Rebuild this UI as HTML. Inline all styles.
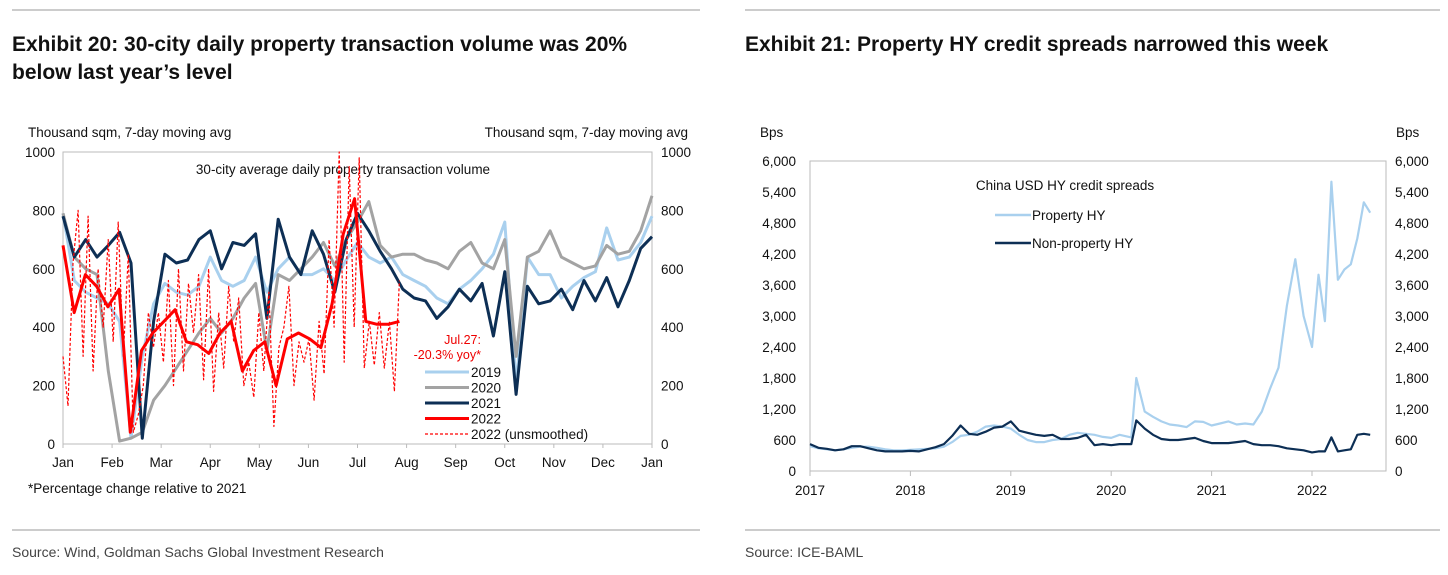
<!DOCTYPE html>
<html><head><meta charset="utf-8">
<style>
body{margin:0;background:#fff;}
svg{display:block;font-family:"Liberation Sans Narrow","Liberation Sans",sans-serif;}
.t{font-size:13.5px;fill:#111;}
.ttl{font-size:21px;font-weight:bold;fill:#111;}
.src{font-size:14px;fill:#444;}
</style></head><body>
<svg id="s" width="1448" height="575" viewBox="0 0 1448 575">
<line x1="12" y1="10" x2="700" y2="10" stroke="#999"/>
<line x1="745" y1="10" x2="1440" y2="10" stroke="#999"/>
<text class="ttl" x="12" y="51">Exhibit 20: 30-city daily property transaction volume was 20%</text>
<text class="ttl" x="12" y="79">below last year’s level</text>
<text class="ttl" x="745" y="51">Exhibit 21: Property HY credit spreads narrowed this week</text>
<line x1="12" y1="530" x2="700" y2="530" stroke="#999"/>
<line x1="745" y1="530" x2="1440" y2="530" stroke="#999"/>
<text class="src" x="12" y="557">Source: Wind, Goldman Sachs Global Investment Research</text>
<text class="src" x="745" y="557">Source: ICE-BAML</text>

<g id="L">
<text class="t" x="28" y="137">Thousand sqm, 7-day moving avg</text>
<text class="t" x="688" y="137" text-anchor="end">Thousand sqm, 7-day moving avg</text>
<text class="t" x="343" y="174" text-anchor="middle">30-city average daily property transaction volume</text>
<text class="t" x="28" y="493">*Percentage change relative to 2021</text>
<text class="t" x="481" y="344" text-anchor="end" style="fill:#e00;font-size:12.5px">Jul.27:</text>
<text class="t" x="481" y="359" text-anchor="end" style="fill:#e00;font-size:12.5px">-20.3% yoy*</text>
</g>
<g id="R">
<text class="t" x="760" y="137">Bps</text>
<text class="t" x="1396" y="137">Bps</text>
<text class="t" x="1065" y="190" text-anchor="middle">China USD HY credit spreads</text>
</g>
</svg>
<script>
const months=["Jan","Feb","Mar","Apr","May","Jun","Jul","Aug","Sep","Oct","Nov","Dec","Jan"];
const leftTicks=[0,200,400,600,800,1000];
const s2019=[790,560,520,500,480,420,20,300,480,550,520,510,540,640,560,540,560,640,520,600,640,580,580,600,560,630,690,640,620,640,580,560,540,500,480,530,560,600,650,760,200,640,580,580,500,540,570,590,740,630,640,690,780];
const s2020=[790,640,600,580,250,10,20,40,150,200,260,320,380,430,380,430,500,550,320,580,560,600,640,690,610,700,760,830,680,640,650,650,630,620,600,660,690,620,600,700,300,640,660,730,640,620,600,610,680,650,660,730,850];
const s2021=[780,640,700,640,680,725,620,20,420,650,620,630,700,730,600,690,680,720,430,770,640,580,730,650,520,700,790,730,660,600,530,500,490,430,470,530,490,550,370,590,170,540,480,490,530,460,560,490,570,470,560,670,710];
const s2022=[680,450,580,540,470,530,40,320,380,420,460,350,340,310,380,420,250,320,350,200,360,380,360,330,480,720,840,420,410,410,420];
const s2022raw=[300,130,620,800,300,780,250,600,400,700,350,760,300,650,40,100,200,450,330,450,280,560,200,600,250,550,380,580,220,600,180,450,260,540,350,500,200,280,160,450,250,520,60,330,400,540,200,350,280,360,150,420,240,700,400,1000,280,950,400,980,260,420,270,450,260,420,180,560];
const rightTicks=[0,600,1200,1800,2400,3000,3600,4200,4800,5400,6000];
const years=[2017,2018,2019,2020,2021,2022];
const propTimes=[];
const propValues=[480,440,420,400,420,450,470,470,450,420,400,400,410,420,430,440,470,560,680,700,760,860,880,860,820,700,600,560,560,600,620,700,740,720,700,660,640,700,650,1800,1150,1050,960,900,880,850,960,950,880,920,960,900,920,900,1150,1600,2000,3200,4100,3000,2400,3800,2900,5600,3700,3900,4000,4500,5200,5000];
const nonpValues=[520,450,430,400,420,480,480,440,400,380,380,380,390,380,420,460,520,680,880,720,700,760,840,860,960,780,740,700,680,700,620,620,640,700,500,520,500,520,520,980,820,700,620,600,600,620,640,580,540,540,540,560,580,520,500,500,480,440,420,400,360,380,380,650,380,400,420,700,720,700];
for(let i=0;i<60;i++)propTimes.push(2017+i/12);
for(let i=0;i<10;i++)propTimes.push(2022+i*0.58/9);
propTimes[38]=2020.2;propTimes[39]=2020.25;

const NS="http://www.w3.org/2000/svg";
const svg=document.getElementById('s');
function mk(tag,at,parent){const e=document.createElementNS(NS,tag);for(const k in at)e.setAttribute(k,at[k]);(parent||svg).appendChild(e);return e;}
const LX0=63,LX1=652,LY0=444,LY1=152;
const lx=w=>LX0+w*(LX1-LX0)/52, ly=v=>LY0-v/1000*(LY0-LY1);
let e=mk('rect',{x:LX0,y:LY1,width:LX1-LX0,height:LY0-LY1,fill:'none',stroke:'#bbb'});


leftTicks.forEach(v=>{
 let t=mk('text',{x:LX0-8,y:ly(v)+5,'text-anchor':'end',class:'t'});t.textContent=v;
 
 
 let t2=mk('text',{x:LX1+9,y:ly(v)+5,class:'t'});t2.textContent=v;
 
 
});
months.forEach((m,i)=>{
 let t=mk('text',{x:LX0+i*(LX1-LX0)/12,y:467,'text-anchor':'middle',class:'t'});t.textContent=m;
 
 
 let k=mk('line',{x1:LX0+i*(LX1-LX0)/12,x2:LX0+i*(LX1-LX0)/12,y1:LY0,y2:LY0+4,stroke:'#bbb'});
 
 
});
function line(vals,xf,yf,attrs,name,step){
 const d=vals.map((v,i)=>(i?'L':'M')+xf(i*(step||1)).toFixed(1)+','+yf(v).toFixed(1)).join('');
 const p=mk('path',Object.assign({d,fill:'none','stroke-linejoin':'round'},attrs));
 
 
 return p;
}
line(s2019,lx,ly,{stroke:'#a9d0ee','stroke-width':3},'series-2019');
line(s2020,lx,ly,{stroke:'#a3a3a3','stroke-width':3},'series-2020');
line(s2021,lx,ly,{stroke:'#0d2f55','stroke-width':3},'series-2021');
line(s2022raw,lx,ly,{stroke:'#f00','stroke-width':1.2,'stroke-dasharray':'3,2'},'series-2022-unsmoothed',29.7/(s2022raw.length-1));
line(s2022,lx,ly,{stroke:'#f00','stroke-width':3},'series-2022',29.7/(s2022.length-1));
const leg=[['2019','#a9d0ee',3,''],['2020','#a3a3a3',3,''],['2021','#0d2f55',3,''],['2022','#f00',3,''],['2022 (unsmoothed)','#f00',1.2,'3,2']];
leg.forEach((l,i)=>{
 const y=372+i*15.5;
 let ln=mk('line',{x1:425,x2:469,y1:y,y2:y,stroke:l[1],'stroke-width':l[2],'stroke-dasharray':l[3]});
 
 
 let t=mk('text',{x:471,y:y+5,class:'t'});t.textContent=l[0];
 
 
});
const RX0=810,RYR=100.4,RX1=1386,RY0=471,RY1=161;
const rx=t=>RX0+(t-2017)*RYR, ry=v=>RY0-v/6000*(RY0-RY1);
e=mk('rect',{x:RX0,y:RY1,width:RX1-RX0,height:RY0-RY1,fill:'none',stroke:'#bbb'});


rightTicks.forEach(v=>{
 const lab=v.toLocaleString('en-US');
 let t=mk('text',{x:RX0-14,y:ry(v)+5,'text-anchor':'end',class:'t'});t.textContent=lab;
 
 
 let t2=mk('text',{x:RX1+9,y:ry(v)+5,class:'t'});t2.textContent=lab;
 
 
});
years.forEach(y=>{
 let t=mk('text',{x:rx(y),y:495,'text-anchor':'middle',class:'t'});t.textContent=y;
 
 
 let k=mk('line',{x1:rx(y),x2:rx(y),y1:RY0,y2:RY0+5,stroke:'#bbb'});
 
 
});
function tline(ts,vals,attrs,name){
 const d=vals.map((v,i)=>(i?'L':'M')+rx(ts[i]).toFixed(1)+','+ry(v).toFixed(1)).join('');
 const p=mk('path',Object.assign({d,fill:'none','stroke-linejoin':'round'},attrs));
 
 
}
tline(propTimes,propValues,{stroke:'#a9d0ee','stroke-width':2.2},'property-hy-line');
tline(propTimes,nonpValues,{stroke:'#0d2f55','stroke-width':2.2},'non-property-hy-line');
[['Property HY','#a9d0ee',215],['Non-property HY','#0d2f55',243]].forEach(l=>{
 let ln=mk('line',{x1:995,x2:1031,y1:l[2],y2:l[2],stroke:l[1],'stroke-width':2.5});
 
 
 let t=mk('text',{x:1032,y:l[2]+5,class:'t'});t.textContent=l[0];
 
 
});
</script>
</body></html>
